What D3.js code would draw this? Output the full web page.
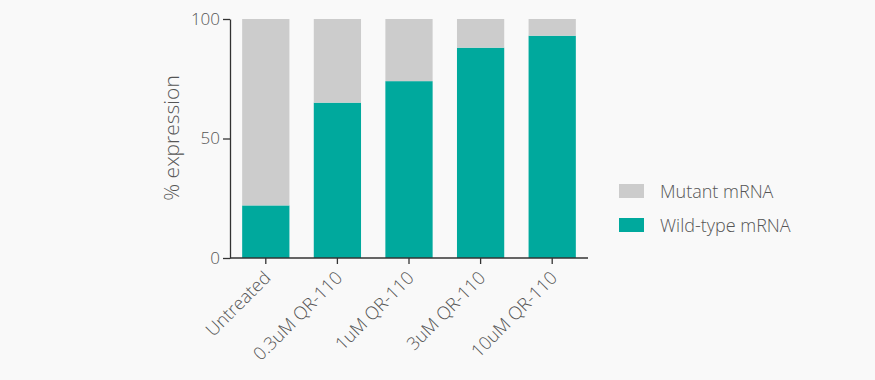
<!DOCTYPE html>
<html>
<head>
<meta charset="utf-8">
<script src="https://cdn.jsdelivr.net/npm/d3@7"></script>
<style>
  html, body { margin: 0; padding: 0; background: #f9f9f9; }
  svg { display: block; font-family: "Open Sans", sans-serif; }
  .axis path, .axis line { stroke: #333; stroke-width: 1.3px; }
  .axis text { fill: #555; font-family: "Open Sans", sans-serif; font-weight: 300; }
</style>
</head>
<body>
<svg id="chart"></svg>
<script>
var categories = ["Untreated", "0.3uM QR-110", "1uM QR-110", "3uM QR-110", "10uM QR-110"];
var wildtype = [22, 65, 74, 88, 93];
var mutant = [78, 35, 26, 12, 7];
var series_names = ["Mutant mRNA", "Wild-type mRNA"];
var series_colors = ["#cccccc", "#00a99d"];
var y_ticks = [0, 50, 100];

var w = 875, h = 380;
var svg = d3.select("#chart").attr("width", w).attr("height", h);

var x = d3.scaleBand().domain(categories).range([230, 588]).paddingInner(0.34).paddingOuter(0.17);
var y = d3.scaleLinear().domain([0, 100]).range([258, 19]);

var rows = categories.map(function(c, i) {
    return { cat: c, wt: wildtype[i], mut: mutant[i] };
});
var stack = d3.stack().keys(["wt", "mut"])(rows);

svg.append("g").selectAll("g")
   .data(stack)
   .enter()
   .append("g")
   .attr("fill", function(d, i) { return i == 0 ? series_colors[1] : series_colors[0]; })
   .selectAll("rect")
   .data(function(d) { return d; })
   .enter()
   .append("rect")
   .attr("x", function(d) { return x(d.data.cat); })
   .attr("y", function(d) { return y(d[1]); })
   .attr("width", x.bandwidth())
   .attr("height", function(d) { return y(d[0]) - y(d[1]); });

// y axis
var yAxis = svg.append("g")
   .attr("class", "axis")
   .attr("transform", "translate(230,0)")
   .call(d3.axisLeft(y).tickValues(y_ticks).tickSize(7).tickSizeOuter(0).tickPadding(3));
yAxis.attr("font-family", null);
yAxis.selectAll("text").style("font-size", "17px");

// x axis
var xAxis = svg.append("g")
   .attr("class", "axis")
   .attr("transform", "translate(0,258)")
   .call(d3.axisBottom(x).tickSize(6).tickSizeOuter(0));
xAxis.attr("font-family", null);
xAxis.select(".domain").attr("d", "M230,0H588");
xAxis.selectAll("text")
   .style("font-size", "18px")
   .attr("text-anchor", "end")
   .attr("dy", null)
   .attr("y", 0)
   .attr("transform", "translate(6,21) rotate(-45)");

svg.append("text")
   .attr("transform", "translate(179,138) rotate(-90)")
   .attr("text-anchor", "middle")
   .style("font-size", "21px")
   .style("font-weight", 300)
   .attr("fill", "#555")
   .text("% expression");

// legend
var legend = svg.append("g").selectAll("g")
   .data(series_names)
   .enter()
   .append("g")
   .attr("transform", function(d, i) { return "translate(619," + (184 + i * 34) + ")"; });
legend.append("rect")
   .attr("width", 25).attr("height", 14)
   .attr("fill", function(d, i) { return series_colors[i]; });
legend.append("text")
   .attr("x", 41).attr("y", 14)
   .style("font-size", "18px")
   .style("font-weight", 300)
   .attr("fill", "#555")
   .text(function(d) { return d; });
</script>
</body>
</html>
